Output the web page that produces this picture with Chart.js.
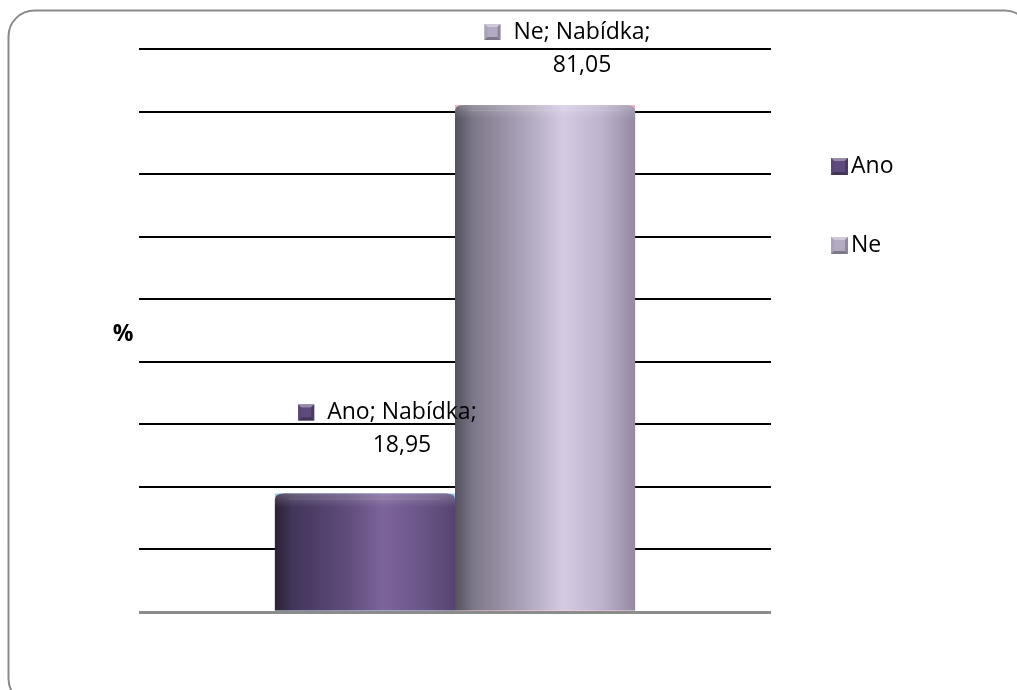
<!DOCTYPE html>
<html>
<head>
<meta charset="utf-8">
<script src="https://cdn.jsdelivr.net/npm/chart.js@4/dist/chart.umd.min.js"></script>
<style>
  html, body { margin: 0; padding: 0; background: #ffffff; }
  canvas { display: block; }
</style>
</head>
<body>
<canvas id="c" width="1017" height="690"></canvas>
<script>
// Survey answers for the single category, in percent
const categories = ['Nabídka'];
const seriesNames = ['Ano', 'Ne'];
const anoValues = [18.95];
const neValues = [81.05];
const axisMax = 90;
const axisStep = 10;
const axisTitle = '%';

// Cylinder shading per series: stops across the bar width
const seriesShades = [
  [[0, '#2c2236'], [0.1, '#42355a'], [0.4, '#5f4c7b'], [0.6, '#7c649a'], [0.82, '#6a5588'], [1, '#564470']],
  [[0, '#54505d'], [0.1, '#7c7688'], [0.35, '#a69eb4'], [0.6, '#d4cae2'], [0.82, '#bdb2cd'], [1, '#938aa2']]
];
const legendColors = ['#5e4a7c', '#b3aac3'];
const labelLift = [48, 40];
const FONT = '"Open Sans", "DejaVu Sans", sans-serif';

function lighten(hex, amt) {
  const n = parseInt(hex.slice(1), 16);
  let r = (n >> 16) & 255, g = (n >> 8) & 255, b = n & 255;
  const f = v => Math.max(0, Math.min(255, Math.round(amt >= 0 ? v + (255 - v) * amt : v * (1 + amt))));
  return 'rgb(' + f(r) + ',' + f(g) + ',' + f(b) + ')';
}

// Small bevelled square used as series marker
function drawMarker(ctx, x, y, s, color) {
  ctx.save();
  ctx.fillStyle = color;
  ctx.fillRect(x, y, s, s);
  const cx = x + s / 2, cy = y + s / 2;
  const tri = (pts, c) => {
    ctx.beginPath();
    ctx.moveTo(pts[0][0], pts[0][1]);
    for (let i = 1; i < pts.length; i++) ctx.lineTo(pts[i][0], pts[i][1]);
    ctx.closePath();
    ctx.fillStyle = c;
    ctx.fill();
  };
  tri([[x, y], [x + s, y], [cx, cy]], lighten(color, 0.35));
  tri([[x, y], [cx, cy], [x, y + s]], lighten(color, -0.05));
  tri([[x + s, y], [cx, cy], [x + s, y + s]], lighten(color, -0.2));
  tri([[x, y + s], [cx, cy], [x + s, y + s]], lighten(color, -0.3));
  ctx.fillStyle = color;
  ctx.fillRect(x + 3, y + 3, s - 6, s - 6);
  ctx.restore();
}

const framePlugin = {
  id: 'frame',
  beforeDraw(chart) {
    const ctx = chart.ctx;
    ctx.save();
    ctx.fillStyle = '#ffffff';
    ctx.fillRect(0, 0, chart.width, chart.height);
    ctx.beginPath();
    ctx.roundRect(8.5, 10.5, 1022, 694, 26);
    ctx.strokeStyle = '#8a8a8a';
    ctx.lineWidth = 2;
    ctx.stroke();
    ctx.restore();
  }
};

const cylinderPlugin = {
  id: 'cylinders',
  afterDatasetsDraw(chart) {
    const ctx = chart.ctx;
    chart.data.datasets.forEach((ds, di) => {
      const meta = chart.getDatasetMeta(di);
      meta.data.forEach(bar => {
        const p = bar.getProps(['x', 'y', 'base', 'width'], true);
        const left = p.x - p.width / 2, right = p.x + p.width / 2;
        const top = p.y, bottom = p.base;
        const g = ctx.createLinearGradient(left, 0, right, 0);
        seriesShades[di].forEach(s => g.addColorStop(s[0], s[1]));
        const r = 9;
        ctx.save();
        ctx.beginPath();
        ctx.moveTo(left, bottom);
        ctx.lineTo(left, top + r * 0.7);
        ctx.quadraticCurveTo(left, top, left + r, top);
        ctx.lineTo(right - r, top);
        ctx.quadraticCurveTo(right, top, right, top + r * 0.7);
        ctx.lineTo(right, bottom);
        ctx.closePath();
        ctx.fillStyle = g;
        ctx.fill();
        ctx.clip();
        // flat top cap sheen
        const cap = ctx.createLinearGradient(0, top, 0, top + 14);
        cap.addColorStop(0, 'rgba(255,255,255,0.22)');
        cap.addColorStop(0.5, 'rgba(255,255,255,0.10)');
        cap.addColorStop(1, 'rgba(255,255,255,0)');
        ctx.fillStyle = cap;
        ctx.fillRect(left, top, p.width, 14);
        ctx.fillStyle = 'rgba(255,255,255,0.12)';
        ctx.fillRect(left + 14, top + 5, p.width - 28, 1);
        ctx.restore();
      });
    });
  },
  afterDraw(chart) {
    const ctx = chart.ctx;
    ctx.save();
    ctx.fillStyle = '#000000';
    ctx.textBaseline = 'middle';
    ctx.font = '23px ' + FONT;
    // data labels: "series; category;" over the value
    chart.data.datasets.forEach((ds, di) => {
      const meta = chart.getDatasetMeta(di);
      meta.data.forEach((bar, i) => {
        const p = bar.getProps(['x', 'y'], true);
        const cx = p.x + 37;
        const y2 = p.y - labelLift[di];
        const y1 = y2 - 33;
        const line1 = ds.label + '; ' + chart.data.labels[i] + ';';
        const w1 = ctx.measureText(line1).width;
        ctx.textAlign = 'left';
        ctx.fillText(line1, cx - w1 / 2, y1);
        drawMarker(ctx, cx - w1 / 2 - 29, y1 - 8, 16, legendColors[di]);
        ctx.textAlign = 'center';
        ctx.fillText(ds.data[i].toFixed(2).replace('.', ','), cx, y2);
      });
    });
    // legend
    ctx.textAlign = 'left';
    seriesNames.forEach((name, i) => {
      const y = 166 + i * 79;
      drawMarker(ctx, 831, y - 8, 17, legendColors[i]);
      ctx.fillText(name, 851, y);
    });
    // axis title
    ctx.font = 'bold 23px ' + FONT;
    ctx.textAlign = 'center';
    ctx.fillText(axisTitle, 123, 334);
    ctx.restore();
  }
};

new Chart(document.getElementById('c'), {
  type: 'bar',
  data: {
    labels: categories,
    datasets: [
      { label: seriesNames[0], data: anoValues },
      { label: seriesNames[1], data: neValues }
    ]
  },
  options: {
    responsive: false,
    animation: false,
    devicePixelRatio: 1,
    layout: { padding: { left: 139, right: 246, top: 49, bottom: 78 } },
    datasets: {
      bar: {
        categoryPercentage: 0.57,
        barPercentage: 1,
        backgroundColor: 'rgba(0,0,0,0)',
        borderWidth: 0
      }
    },
    plugins: { legend: { display: false }, tooltip: { enabled: false } },
    scales: {
      x: { display: false },
      y: {
        min: 0,
        max: axisMax,
        ticks: { stepSize: axisStep, display: false },
        border: { display: false },
        grid: {
          drawTicks: false,
          color: c => c.tick && c.tick.value === 0 ? '#8c8c8c' : '#000000',
          lineWidth: c => c.tick && c.tick.value === 0 ? 3 : 2
        }
      }
    }
  },
  plugins: [framePlugin, cylinderPlugin]
});
</script>
</body>
</html>
